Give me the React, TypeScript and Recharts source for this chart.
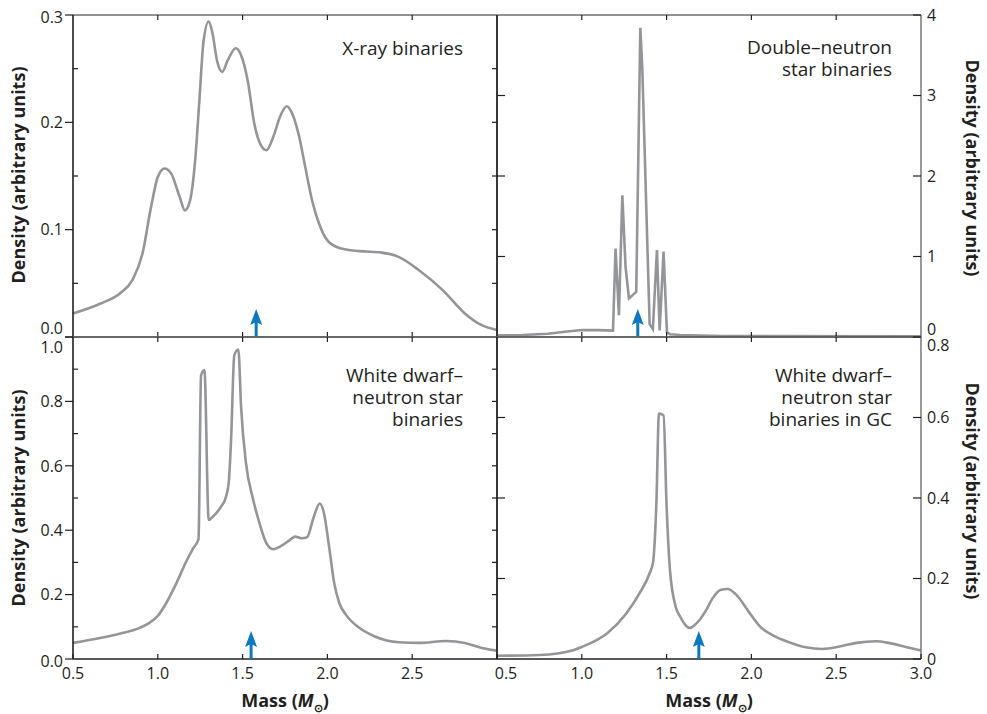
import React from 'react';
import { LineChart, Line, XAxis, YAxis, ReferenceDot } from 'recharts';

const W = 987;
const H = 714;
const FONT = '"Open Sans", "Noto Sans", sans-serif';
const INK = '#231f20';
const FRAME = '#6d6e71';
const CURVE = '#939598';
const ARROW = '#0b79c1';

const massTicks = [0.5, 1.0, 1.5, 2.0, 2.5, 3.0];
const innerMassTicks = [1.0, 1.5, 2.0, 2.5];

// X-ray binaries (top left)
const xrbMass = [0.5, 0.66, 0.78, 0.85, 0.91, 0.96, 1.0, 1.04, 1.08, 1.13, 1.16, 1.19, 1.22, 1.245, 1.27, 1.3, 1.32, 1.35, 1.38, 1.41, 1.46, 1.49, 1.53, 1.57, 1.61, 1.64, 1.68, 1.72, 1.76, 1.79, 1.83, 1.87, 1.91, 1.95, 2.0, 2.07, 2.19, 2.32, 2.42, 2.54, 2.68, 2.81, 2.91, 3.0];
const xrbDensity = [0.022, 0.031, 0.041, 0.053, 0.078, 0.121, 0.149, 0.157, 0.152, 0.13, 0.118, 0.127, 0.164, 0.22, 0.276, 0.294, 0.285, 0.257, 0.247, 0.257, 0.269, 0.263, 0.239, 0.198, 0.178, 0.174, 0.186, 0.205, 0.215, 0.209, 0.189, 0.158, 0.127, 0.106, 0.09, 0.083, 0.08, 0.0786, 0.0746, 0.0622, 0.0437, 0.022, 0.011, 0.0065];
const xrbTicks = [0, 0.05, 0.1, 0.15, 0.2, 0.25, 0.3];

// Double-neutron star binaries (top right)
const dnsMass = [0.5, 0.65, 0.8, 0.9, 1.0, 1.1, 1.184, 1.199, 1.219, 1.239, 1.258, 1.278, 1.321, 1.345, 1.357, 1.4, 1.419, 1.443, 1.459, 1.482, 1.502, 1.52, 1.58, 1.83, 3.0];
const dnsDensity = [0.02, 0.025, 0.04, 0.065, 0.087, 0.085, 0.08, 1.1, 0.27, 1.76, 0.87, 0.48, 0.56, 3.84, 3.32, 0.16, 0.1, 1.08, 0.08, 1.06, 0.06, 0.035, 0.025, 0.012, 0.008];
const dnsTicks = [0, 1, 2, 3, 4];

// White dwarf-neutron star binaries (bottom left)
const wdMass = [0.5, 0.66, 0.78, 0.89, 0.95, 1.0, 1.05, 1.11, 1.17, 1.21, 1.24, 1.255, 1.275, 1.3, 1.324, 1.373, 1.402, 1.418, 1.432, 1.451, 1.475, 1.491, 1.52, 1.56, 1.6, 1.64, 1.68, 1.72, 1.78, 1.81, 1.85, 1.88, 1.92, 1.955, 1.98, 2.01, 2.04, 2.07, 2.11, 2.19, 2.28, 2.42, 2.54, 2.7, 2.81, 2.91, 3.0];
const wdDensity = [0.05, 0.065, 0.079, 0.096, 0.112, 0.134, 0.174, 0.236, 0.305, 0.345, 0.372, 0.881, 0.897, 0.432, 0.442, 0.473, 0.504, 0.546, 0.68, 0.943, 0.961, 0.783, 0.608, 0.5, 0.421, 0.36, 0.341, 0.349, 0.37, 0.38, 0.375, 0.378, 0.442, 0.483, 0.452, 0.349, 0.236, 0.174, 0.137, 0.096, 0.07, 0.052, 0.05, 0.056, 0.05, 0.034, 0.026];
const wdTicks = [0, 0.1, 0.2, 0.3, 0.4, 0.5, 0.6, 0.7, 0.8, 0.9, 1.0];

// White dwarf-neutron star binaries in globular clusters (bottom right)
const gcMass = [0.5, 0.75, 0.95, 1.0, 1.15, 1.26, 1.34, 1.4, 1.42, 1.44, 1.455, 1.482, 1.5, 1.52, 1.555, 1.58, 1.61, 1.636, 1.67, 1.7, 1.734, 1.77, 1.82, 1.86, 1.91, 1.99, 2.05, 2.13, 2.22, 2.32, 2.42, 2.52, 2.62, 2.735, 2.81, 2.91, 3.0];
const gcDensity = [0.008, 0.01, 0.022, 0.03, 0.064, 0.112, 0.163, 0.213, 0.24, 0.39, 0.61, 0.605, 0.38, 0.22, 0.128, 0.105, 0.085, 0.077, 0.086, 0.1, 0.122, 0.15, 0.172, 0.174, 0.16, 0.114, 0.081, 0.058, 0.042, 0.029, 0.025, 0.031, 0.04, 0.044, 0.04, 0.03, 0.021];
const gcTicks = [0, 0.2, 0.4, 0.6, 0.8];

const arrowMass = { xrb: 1.58, dns: 1.33, wd: 1.55, gc: 1.69 };

const zip = (m: number[], d: number[]) => m.map((v, i) => ({ mass: v, density: d[i] }));
const isTenth = (v: number) => Math.abs(v * 10 - Math.round(v * 10)) < 1e-6;
const isFifth = (v: number) => Math.abs(v * 5 - Math.round(v * 5)) < 1e-6;

type Side = 'left' | 'right' | 'top' | 'bottom';
interface TickOpts {
  side: Side;
  len: (v: number) => number; // positive = into the plot
  text?: (v: number) => string | null;
  nudge?: (v: number) => number;
}

function renderTick(p: any, o: TickOpts) {
  const { x, y } = p;
  const v = p.payload.value;
  const len = o.len(v);
  const text = o.text ? o.text(v) : null;
  const nudge = o.nudge ? o.nudge(v) : 0;
  const t = { fontFamily: FONT, fontSize: 16, fill: INK };
  if (o.side === 'left') {
    return (
      <g>
        <line x1={x} y1={y} x2={x + len} y2={y} stroke={INK} strokeWidth={1.2} />
        {text && <text x={x - 10} y={y + nudge} dy="0.36em" textAnchor="end" {...t}>{text}</text>}
      </g>
    );
  }
  if (o.side === 'right') {
    return (
      <g>
        <line x1={x} y1={y} x2={x - len} y2={y} stroke={INK} strokeWidth={1.2} />
        {text && <text x={x + 6} y={y + nudge} dy="0.36em" textAnchor="start" {...t}>{text}</text>}
      </g>
    );
  }
  if (o.side === 'bottom') {
    return (
      <g>
        <line x1={x} y1={y} x2={x} y2={y - len} stroke={INK} strokeWidth={1.2} />
        {text && <text x={x + nudge} y={y + 20} textAnchor="middle" {...t}>{text}</text>}
      </g>
    );
  }
  return (
    <g>
      <line x1={x} y1={y} x2={x} y2={y + len} stroke={INK} strokeWidth={1.2} />
    </g>
  );
}

const arrowShape = (p: any) => {
  const { cx, cy } = p;
  return (
    <g>
      <line x1={cx} y1={cy} x2={cx} y2={cy - 16} stroke={ARROW} strokeWidth={3} />
      <polygon
        points={`${cx},${cy - 28} ${cx + 6},${cy - 12} ${cx},${cy - 15} ${cx - 6},${cy - 12}`}
        fill={ARROW}
      />
    </g>
  );
};

interface PanelProps {
  data: { mass: number; density: number }[];
  domain: [number, number];
  left: TickOpts & { ticks: number[] };
  right: TickOpts & { ticks: number[] };
  bottom: TickOpts & { ticks: number[] };
  margin: { top: number; right: number; bottom: number; left: number };
  curve: 'monotone' | 'linear';
  arrow: number;
}

function Panel({ data, domain, left, right, bottom, margin, curve, arrow }: PanelProps) {
  return (
    <div style={{ position: 'absolute', left: 0, top: 0 }}>
      <LineChart width={W} height={H} data={data} margin={margin}>
        <XAxis
          xAxisId="b"
          type="number"
          dataKey="mass"
          domain={[0.5, 3]}
          ticks={bottom.ticks}
          interval={0}
          height={1}
          tickSize={0}
          tickMargin={0}
          tickLine={false}
          axisLine={{ stroke: INK, strokeWidth: 1.6 }}
          tick={(p: any) => renderTick(p, bottom)}
        />
        <XAxis
          xAxisId="t"
          orientation="top"
          type="number"
          dataKey="mass"
          domain={[0.5, 3]}
          ticks={innerMassTicks}
          interval={0}
          height={1}
          tickSize={0}
          tickMargin={0}
          tickLine={false}
          axisLine={{ stroke: FRAME, strokeWidth: 1.4 }}
          tick={(p: any) => renderTick(p, { side: 'top', len: () => 5 })}
        />
        <YAxis
          yAxisId="l"
          type="number"
          domain={domain}
          ticks={left.ticks}
          interval={0}
          width={1}
          tickSize={0}
          tickMargin={0}
          tickLine={false}
          axisLine={{ stroke: INK, strokeWidth: 1.6 }}
          tick={(p: any) => renderTick(p, left)}
        />
        <YAxis
          yAxisId="r"
          orientation="right"
          type="number"
          domain={domain}
          ticks={right.ticks}
          interval={0}
          width={1}
          tickSize={0}
          tickMargin={0}
          tickLine={false}
          axisLine={{ stroke: FRAME, strokeWidth: 1.4 }}
          tick={(p: any) => renderTick(p, right)}
        />
        {/* invisible twin so the top and right axes get a series of their own */}
        <Line
          xAxisId="t"
          yAxisId="r"
          type={curve}
          dataKey="density"
          stroke="none"
          dot={false}
          activeDot={false}
          legendType="none"
          isAnimationActive={false}
        />
        <Line
          xAxisId="b"
          yAxisId="l"
          type={curve}
          dataKey="density"
          stroke={CURVE}
          strokeWidth={2.6}
          dot={false}
          isAnimationActive={false}
        />
        <ReferenceDot xAxisId="b" yAxisId="l" x={arrow} y={0} r={0} shape={arrowShape} ifOverflow="visible" />
      </LineChart>
    </div>
  );
}

const titleStyle = { fontFamily: FONT, fontSize: 19, fill: INK };
const axisTitleStyle = { fontFamily: FONT, fontSize: 18, fontWeight: 700, fill: INK };

function Title({ x, y, lines }: { x: number; y: number; lines: string[] }) {
  return (
    <text x={x} y={y} textAnchor="end" {...titleStyle}>
      {lines.map((l, i) => (
        <tspan key={l} x={x} dy={i === 0 ? 0 : 22}>{l}</tspan>
      ))}
    </text>
  );
}

function DensityLabel({ x, y, rot }: { x: number; y: number; rot: number }) {
  return (
    <text x={x} y={y} transform={`rotate(${rot}, ${x}, ${y})`} textAnchor="middle" dominantBaseline="central" {...axisTitleStyle}>
      Density (arbitrary units)
    </text>
  );
}

function MassLabel({ x }: { x: number }) {
  return (
    <text x={x} y={707} textAnchor="middle" {...axisTitleStyle}>
      Mass (<tspan fontStyle="italic">M</tspan>
      <tspan fontSize={11} dy={5}>⊙</tspan>
      <tspan dy={-5}>)</tspan>
    </text>
  );
}

const topMargin = (left: number, right: number) => ({ top: 14, bottom: H - 337 - 1, left: left - 1, right: W - right - 1 });
const botMargin = (left: number, right: number) => ({ top: 336, bottom: H - 659 - 1, left: left - 1, right: W - right - 1 });

export default function App() {
  return (
    <div style={{ position: 'absolute', left: 0, top: 0, width: W, height: H, background: '#fff' }}>
      <Panel
        data={zip(xrbMass, xrbDensity)}
        domain={[0, 0.3]}
        margin={topMargin(73, 497)}
        curve="monotone"
        arrow={arrowMass.xrb}
        left={{
          side: 'left',
          ticks: xrbTicks,
          len: (v) => (isTenth(v) ? -8 : 5),
          text: (v) => (isTenth(v) ? v.toFixed(1) : null),
          nudge: (v) => (v === 0 ? -9 : v === 0.3 ? 2 : 0),
        }}
        right={{ side: 'right', ticks: xrbTicks.slice(1, -1), len: () => 5 }}
        bottom={{ side: 'bottom', ticks: innerMassTicks, len: () => 5 }}
      />
      <Panel
        data={zip(dnsMass, dnsDensity)}
        domain={[0, 4]}
        margin={topMargin(497, 921)}
        curve="linear"
        arrow={arrowMass.dns}
        left={{ side: 'left', ticks: [1, 2, 3], len: () => 8 }}
        right={{
          side: 'right',
          ticks: dnsTicks,
          len: () => 8,
          text: (v) => String(v),
          nudge: (v) => (v === 0 ? -8 : 0),
        }}
        bottom={{ side: 'bottom', ticks: innerMassTicks, len: () => 5 }}
      />
      <Panel
        data={zip(wdMass, wdDensity)}
        domain={[0, 1]}
        margin={botMargin(73, 497)}
        curve="monotone"
        arrow={arrowMass.wd}
        left={{
          side: 'left',
          ticks: wdTicks,
          len: (v) => (isFifth(v) ? -8 : 5),
          text: (v) => (isFifth(v) ? v.toFixed(1) : null),
          nudge: (v) => (v === 1 ? 10 : v === 0 ? 2 : 0),
        }}
        right={{ side: 'right', ticks: wdTicks.slice(1, -1), len: () => 5 }}
        bottom={{
          side: 'bottom',
          ticks: massTicks,
          len: () => 5,
          text: (v) => (v < 3 ? v.toFixed(1) : null),
        }}
      />
      <Panel
        data={zip(gcMass, gcDensity)}
        domain={[0, 0.8]}
        margin={botMargin(497, 921)}
        curve="monotone"
        arrow={arrowMass.gc}
        left={{ side: 'left', ticks: [0.2, 0.4, 0.6], len: () => 8 }}
        right={{
          side: 'right',
          ticks: gcTicks,
          len: () => 8,
          text: (v) => (v === 0 ? '0' : v.toFixed(1)),
          nudge: (v) => (v === 0.8 ? 8 : 0),
        }}
        bottom={{
          side: 'bottom',
          ticks: massTicks,
          len: () => 5,
          text: (v) => v.toFixed(1),
          nudge: (v) => (v === 0.5 ? 9 : 0),
        }}
      />
      <svg width={W} height={H} style={{ position: 'absolute', left: 0, top: 0, pointerEvents: 'none' }}>
        <Title x={463} y={55} lines={['X-ray binaries']} />
        <Title x={892} y={54} lines={['Double–neutron', 'star binaries']} />
        <Title x={463} y={382} lines={['White dwarf–', 'neutron star', 'binaries']} />
        <Title x={892} y={382} lines={['White dwarf–', 'neutron star', 'binaries in GC']} />
        <DensityLabel x={18} y={175} rot={-90} />
        <DensityLabel x={18} y={498} rot={-90} />
        <DensityLabel x={973} y={168} rot={90} />
        <DensityLabel x={973} y={491} rot={90} />
        <MassLabel x={285} />
        <MassLabel x={709} />
      </svg>
    </div>
  );
}
